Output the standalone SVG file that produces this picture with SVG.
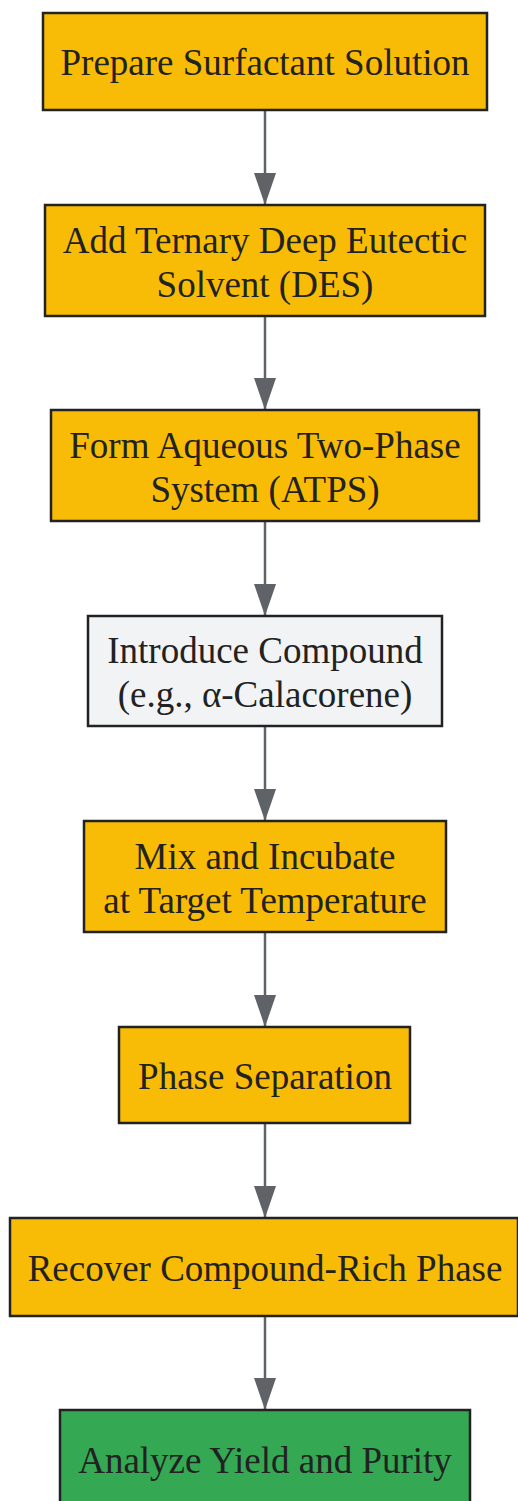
<svg xmlns="http://www.w3.org/2000/svg" width="518" height="1501" viewBox="0 0 518 1501">
<defs>
<style>
.n{stroke:#222222;stroke-width:2.5}
.y{fill:#F9BC06}
.g{fill:#34A853}
.w{fill:#F1F3F4}
text{font-family:"Liberation Serif","Times New Roman",serif;font-size:37px;fill:#222222;text-anchor:middle}
.e{stroke:#5F6368;stroke-width:2.5;fill:none}
</style>
<marker id="ah" markerWidth="32" markerHeight="22" refX="32" refY="11" orient="auto" markerUnits="userSpaceOnUse" viewBox="0 0 32 22">
<path d="M0,0 L32,11 L0,22 Z" fill="#5F6368"/>
</marker>
</defs>
<rect width="518" height="1501" fill="#FFFFFF"/>
<g id="edges">
<line class="e" x1="265" y1="110" x2="265" y2="205" marker-end="url(#ah)"/>
<line class="e" x1="265" y1="316" x2="265" y2="410" marker-end="url(#ah)"/>
<line class="e" x1="265" y1="521" x2="265" y2="616" marker-end="url(#ah)"/>
<line class="e" x1="265" y1="726" x2="265" y2="821" marker-end="url(#ah)"/>
<line class="e" x1="265" y1="932" x2="265" y2="1027" marker-end="url(#ah)"/>
<line class="e" x1="265" y1="1123" x2="265" y2="1218" marker-end="url(#ah)"/>
<line class="e" x1="265" y1="1316" x2="265" y2="1410" marker-end="url(#ah)"/>
</g>
<g id="n1">
<rect class="n y" x="43" y="13" width="444" height="97"/>
<text x="265" y="75">Prepare Surfactant Solution</text>
</g>
<g id="n2">
<rect class="n y" x="45" y="205" width="440" height="111"/>
<text x="265" y="253">Add Ternary Deep Eutectic</text>
<text x="265" y="297">Solvent (DES)</text>
</g>
<g id="n3">
<rect class="n y" x="51" y="410" width="428" height="111"/>
<text x="265" y="458">Form Aqueous Two-Phase</text>
<text x="265" y="502">System (ATPS)</text>
</g>
<g id="n4">
<rect class="n w" x="88" y="616" width="354" height="110"/>
<text x="265" y="663">Introduce Compound</text>
<text x="265" y="707">(e.g., α-Calacorene)</text>
</g>
<g id="n5">
<rect class="n y" x="84" y="821" width="362" height="111"/>
<text x="265" y="869">Mix and Incubate</text>
<text x="265" y="913">at Target Temperature</text>
</g>
<g id="n6">
<rect class="n y" x="119" y="1027" width="291" height="96"/>
<text x="265" y="1089">Phase Separation</text>
</g>
<g id="n7">
<rect class="n y" x="10" y="1218" width="508" height="98"/>
<text x="265" y="1281">Recover Compound-Rich Phase</text>
</g>
<g id="n8">
<rect class="n g" x="60" y="1410" width="410" height="100"/>
<text x="265" y="1473">Analyze Yield and Purity</text>
</g>
</svg>
